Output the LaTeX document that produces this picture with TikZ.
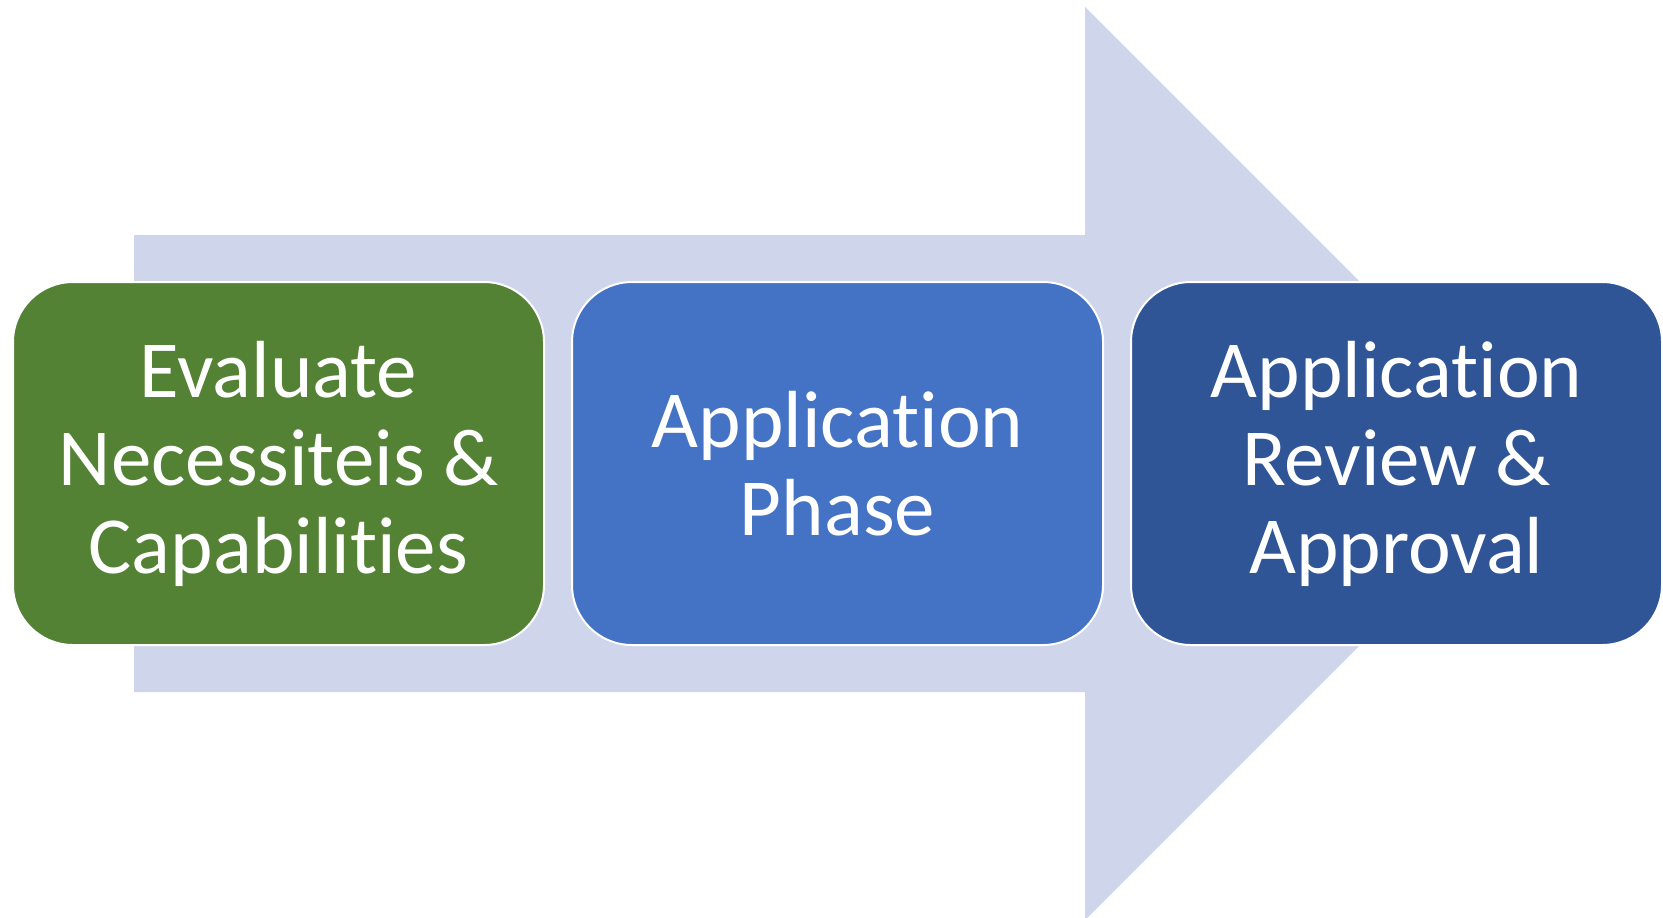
\documentclass[tikz,border=0pt]{standalone}
\usepackage{fontspec}
\setmainfont{Carlito}[Ligatures=NoCommon]
\definecolor{arrowfill}{HTML}{CFD5EA}
\definecolor{boxgreen}{HTML}{548235}
\definecolor{boxblue}{HTML}{4472C4}
\definecolor{boxdark}{HTML}{2F5597}
\begin{document}
\begin{tikzpicture}[x=0.5pt,y=-0.5pt,
  stage/.style={draw=white, line width=1pt, rounded corners=30pt,
    minimum width=265.5pt, minimum height=181.5pt, inner sep=0pt,
    text=white, align=center,
    font=\fontsize{40.5}{44}\selectfont}]
\useasboundingbox (0,0) rectangle (1663,917);
\clip (0,0) rectangle (1663,917);
\fill[white] (0,0) rectangle (1663,917);
% big background arrow
\fill[arrowfill] (134,235) -- (1085,235) -- (1085,7) -- (1541.5,463.5)
  -- (1085,920) -- (1085,692) -- (134,692) -- cycle;
% stages
\node[stage, fill=boxgreen] (box1) at (278.5,463.5)
  {Evaluate\\Necessiteis \&\\Capabilities};
\node[stage, fill=boxblue] (box2) at (837.5,463.5)
  {Application\\Phase};
\node[stage, fill=boxdark] (box3) at (1396.5,463.5)
  {Application\\Review \&\\Approval};
\end{tikzpicture}
\end{document}
